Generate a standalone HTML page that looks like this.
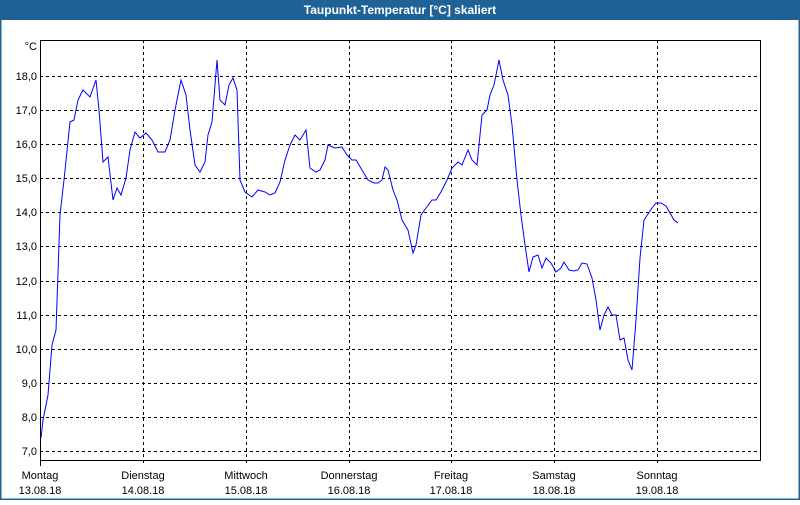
<!DOCTYPE html>
<html><head><meta charset="utf-8"><style>
body{margin:0;width:800px;height:500px;overflow:hidden;background:#fff;font-family:"Liberation Sans",sans-serif}
</style></head><body>
<svg width="800" height="500" xmlns="http://www.w3.org/2000/svg" font-family="Liberation Sans, sans-serif" font-size="11">
<rect x="0" y="0" width="800" height="500" fill="#fff"/>
<rect x="0" y="0" width="800" height="20" fill="#1f6396"/>
<rect x="0.5" y="0.5" width="799" height="499" fill="none" stroke="#1f6396" stroke-width="2"/>
<text x="400" y="14" fill="#fff" font-weight="bold" font-size="12" text-anchor="middle">Taupunkt-Temperatur [°C] skaliert</text>
<g stroke="#000" stroke-dasharray="3,3" stroke-width="1">
<line x1="40" x2="760" y1="76.5" y2="76.5"/><line x1="40" x2="760" y1="110.5" y2="110.5"/>
<line x1="40" x2="760" y1="144.5" y2="144.5"/><line x1="40" x2="760" y1="178.5" y2="178.5"/>
<line x1="40" x2="760" y1="212.5" y2="212.5"/><line x1="40" x2="760" y1="246.5" y2="246.5"/>
<line x1="40" x2="760" y1="281.5" y2="281.5"/><line x1="40" x2="760" y1="315.5" y2="315.5"/>
<line x1="40" x2="760" y1="349.5" y2="349.5"/><line x1="40" x2="760" y1="383.5" y2="383.5"/>
<line x1="40" x2="760" y1="417.5" y2="417.5"/><line x1="40" x2="760" y1="451.5" y2="451.5"/>
<line x1="143.5" x2="143.5" y1="40" y2="466"/><line x1="246.5" x2="246.5" y1="40" y2="466"/>
<line x1="349.5" x2="349.5" y1="40" y2="466"/><line x1="451.5" x2="451.5" y1="40" y2="466"/>
<line x1="554.5" x2="554.5" y1="40" y2="466"/><line x1="657.5" x2="657.5" y1="40" y2="466"/>
</g>
<rect x="40.5" y="40.5" width="720" height="420" fill="none" stroke="#000"/>
<line x1="40.5" x2="40.5" y1="460" y2="466" stroke="#000"/>
<g text-anchor="end" fill="#000">
<text x="37" y="50">°C</text>
<text x="37" y="80">18,0</text><text x="37" y="114">17,0</text><text x="37" y="148">16,0</text>
<text x="37" y="182">15,0</text><text x="37" y="216">14,0</text><text x="37" y="250">13,0</text>
<text x="37" y="285">12,0</text><text x="37" y="319">11,0</text><text x="37" y="353">10,0</text>
<text x="37" y="387">9,0</text><text x="37" y="421">8,0</text><text x="37" y="455">7,0</text>
</g>
<g text-anchor="middle" fill="#000">
<text x="40" y="479">Montag</text><text x="40" y="494">13.08.18</text>
<text x="143" y="479">Dienstag</text><text x="143" y="494">14.08.18</text>
<text x="246" y="479">Mittwoch</text><text x="246" y="494">15.08.18</text>
<text x="349" y="479">Donnerstag</text><text x="349" y="494">16.08.18</text>
<text x="451" y="479">Freitag</text><text x="451" y="494">17.08.18</text>
<text x="554" y="479">Samstag</text><text x="554" y="494">18.08.18</text>
<text x="657" y="479">Sonntag</text><text x="657" y="494">19.08.18</text>
</g>
<polyline fill="none" stroke="#0000ff" stroke-width="1" points="41,438 43,420 48,395 52,345 56,330 60,215 64,180 70,122 74,120 78,100 83,90 90,97 96,80 99,110 103,162 108,157 113,200 117,188 121,195 126,178 130,150 135,132 140,138 146,133 152,140 158,152 165,152 170,140 175,110 181,80 186,95 190,130 195,165 200,172 205,162 208,135 212,122 217,60 220,100 225,105 229,85 233,78 237,90 240,180 245,192 252,197 258,190 265,192 270,195 275,193 280,182 285,160 290,145 295,135 300,140 306,130 310,168 316,172 320,170 325,160 328,145 335,148 342,147 347,155 352,160 356,160 362,170 368,180 374,183 378,183 382,180 385,167 388,170 393,190 397,200 402,220 408,230 413,253 416,245 421,215 426,208 432,200 436,200 441,192 447,180 452,168 458,162 462,165 468,150 472,160 477,165 482,115 487,110 490,95 494,85 499,60 503,80 508,95 512,125 517,180 521,215 525,245 529,272 533,257 538,255 542,268 546,258 551,263 556,272 561,268 564,262 569,270 574,271 578,270 582,263 587,264 592,278 596,300 600,330 604,315 608,307 612,315 616,315 620,340 624,338 628,360 632,370 636,320 640,258 644,220 648,214 652,208 656,203 661,203 666,206 670,213 674,220 678,223"/>
</svg>
</body></html>
